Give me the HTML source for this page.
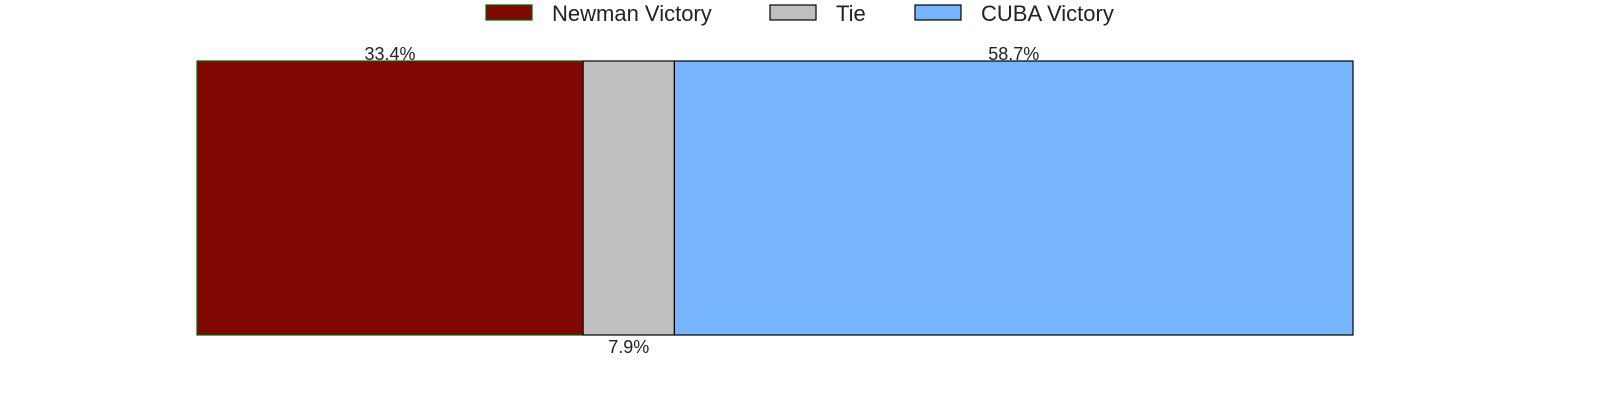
<!DOCTYPE html>
<html><head><meta charset="utf-8"><style>
html,body{margin:0;padding:0;background:#fff;}
svg{display:block;font-family:"Liberation Sans",Arial,sans-serif;}
</style></head><body>
<svg id="chart" width="1600" height="400" viewBox="0 0 1600 400">
<g id="legend"></g>
<g id="bars"></g>
<g id="labels"></g>
</svg>
<script>
const categories = ["Newman Victory", "Tie", "CUBA Victory"];
const values = [33.4, 7.9, 58.7];
const valueLabels = ["33.4%", "7.9%", "58.7%"];
const colors = ["#7f0902", "#bfbfbf", "#76b5fe"];
const strokes = ["#006400", "#000", "#000"];
const labelAbove = [true, false, true];

const NS = "http://www.w3.org/2000/svg";
const x0 = 197, x1 = 1353, yTop = 61, yBot = 335;
const total = values.reduce((a, b) => a + b, 0);
const xScale = v => x0 + (v / total) * (x1 - x0);

const bars = document.getElementById("bars");
const labels = document.getElementById("labels");
let cum = 0;
values.forEach((v, i) => {
  const xa = xScale(cum), xb = xScale(cum + v);
  const r = document.createElementNS(NS, "rect");
  r.setAttribute("x", xa); r.setAttribute("y", yTop);
  r.setAttribute("width", xb - xa); r.setAttribute("height", yBot - yTop);
  r.setAttribute("fill", colors[i]); r.setAttribute("stroke", strokes[i]); r.setAttribute("stroke-width", "1.2");
  
  
  bars.appendChild(r);
  const t = document.createElementNS(NS, "text");
  t.setAttribute("x", (xa + xb) / 2);
  t.setAttribute("y", labelAbove[i] ? yTop - 1 : yBot + 18);
  t.setAttribute("text-anchor", "middle"); t.setAttribute("font-size", "18"); t.setAttribute("fill", "#222");
  t.textContent = valueLabels[i];
  
  
  labels.appendChild(t);
  cum += v;
});

const legend = document.getElementById("legend");
const legX = [486, 770, 915];
categories.forEach((c, i) => {
  const g = document.createElementNS(NS, "g");
  
  
  const r = document.createElementNS(NS, "rect");
  r.setAttribute("x", legX[i]); r.setAttribute("y", 5); r.setAttribute("width", 46); r.setAttribute("height", 15);
  r.setAttribute("fill", colors[i]); r.setAttribute("stroke", strokes[i]); r.setAttribute("stroke-width", "1.2");
  g.appendChild(r);
  const t = document.createElementNS(NS, "text");
  t.setAttribute("x", legX[i] + 66); t.setAttribute("y", 21);
  t.setAttribute("font-size", "22"); t.setAttribute("fill", "#222");
  t.textContent = c;
  g.appendChild(t);
  legend.appendChild(g);
});
</script>
</body></html>
